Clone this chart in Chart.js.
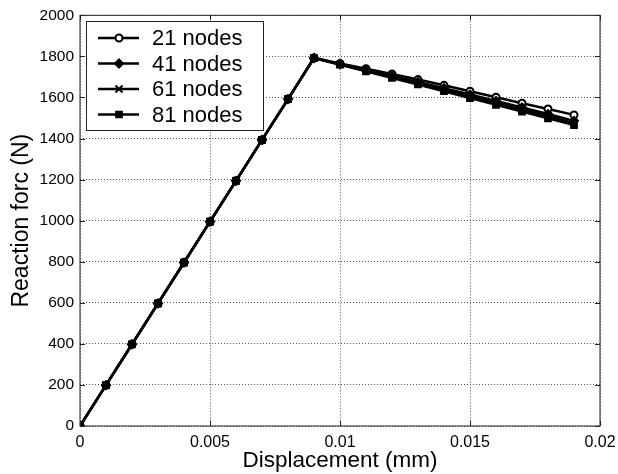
<!doctype html>
<html lang="en">
  <head>
    <meta charset="UTF-8" />
    <title>Reaction force vs displacement</title>
    <script src="https://cdn.jsdelivr.net/npm/chart.js"></script>
    <style>
      body {
        margin: 0;
        background: #fff;
      }
      .wrap {
        width: 618px;
        height: 474px;
      }
    </style>
  </head>
  <body>
    <div class="wrap"><canvas id="chart" width="618" height="474"></canvas></div>

    <script>
      const displacement = [
        0, 0.001, 0.002, 0.003, 0.004, 0.005, 0.006, 0.007, 0.008, 0.009,
        0.01, 0.011, 0.012, 0.013, 0.014, 0.015, 0.016, 0.017, 0.018, 0.019,
      ];
      const rising = [0, 199, 398, 597, 796, 995, 1194, 1393, 1592, 1792];
      const nodes21 = [1765, 1740, 1714, 1687, 1659, 1630, 1601, 1572, 1544, 1515];
      const nodes41 = [1763, 1734, 1705, 1675, 1645, 1614, 1583, 1551, 1519, 1486];
      const nodes61 = [1761, 1730, 1699, 1668, 1637, 1605, 1573, 1540, 1508, 1475];
      const nodes81 = [1759, 1727, 1695, 1663, 1630, 1597, 1564, 1531, 1498, 1465];
      const xTicks = [0, 0.005, 0.01, 0.015, 0.02];
      const yTicks = [0, 200, 400, 600, 800, 1000, 1200, 1400, 1600, 1800, 2000];

      const FONT = "'Liberation Sans', Arial, sans-serif";

      function points(tail) {
        return rising.concat(tail).map((y, i) => ({ x: displacement[i], y }));
      }

      const series = [
        { label: '21 nodes', values: nodes21, style: 'circle', radius: 3.5, fill: '#fff' },
        { label: '41 nodes', values: nodes41, style: 'rectRot', radius: 4, fill: '#000' },
        { label: '61 nodes', values: nodes61, style: 'crossRot', radius: 5, fill: '#000' },
        { label: '81 nodes', values: nodes81, style: 'rect', radius: 4, fill: '#000' },
      ];

      // MATLAB style box with inward ticks and legend
      const boxPlugin = {
        id: 'box',
        afterDraw(chart) {
          const { ctx, chartArea: a, scales } = chart;
          ctx.save();
          ctx.strokeStyle = '#222';
          ctx.lineWidth = 1;
          ctx.strokeRect(a.left, a.top, a.right - a.left, a.bottom - a.top);
          const t = 5;
          ctx.beginPath();
          xTicks.forEach((v) => {
            const px = Math.round(scales.x.getPixelForValue(v)) + 0.5;
            ctx.moveTo(px, a.bottom);
            ctx.lineTo(px, a.bottom - t);
            ctx.moveTo(px, a.top);
            ctx.lineTo(px, a.top + t);
          });
          yTicks.forEach((v) => {
            const py = Math.round(scales.y.getPixelForValue(v)) + 0.5;
            ctx.moveTo(a.left, py);
            ctx.lineTo(a.left + t, py);
            ctx.moveTo(a.right, py);
            ctx.lineTo(a.right - t, py);
          });
          ctx.stroke();

          // legend
          const lx = 86, ly = 21, lw = 177, lh = 109;
          ctx.fillStyle = '#fff';
          ctx.fillRect(lx, ly, lw, lh);
          ctx.strokeStyle = '#222';
          ctx.strokeRect(lx + 0.5, ly + 0.5, lw, lh);
          ctx.font = '22px ' + FONT;
          ctx.textBaseline = 'middle';
          series.forEach((s, i) => {
            const y = 38 + i * 25.5;
            ctx.strokeStyle = '#000';
            ctx.lineWidth = 2.5;
            ctx.beginPath();
            ctx.moveTo(98, y);
            ctx.lineTo(139, y);
            ctx.stroke();
            ctx.fillStyle = s.fill;
            ctx.lineWidth = 2;
            Chart.helpers.drawPoint(ctx, { pointStyle: s.style, radius: s.radius, borderWidth: 2 }, 119, y);
            ctx.fillStyle = '#000';
            ctx.fillText(s.label, 152, y + 1);
          });
          ctx.restore();
        },
      };

      new Chart(document.getElementById('chart'), {
        type: 'line',
        data: {
          datasets: series.map((s, i) => ({
            label: s.label,
            data: points(s.values),
            order: series.length - 1 - i,
            borderColor: '#000',
            borderWidth: 2.5,
            pointStyle: s.style,
            pointRadius: s.radius,
            pointBackgroundColor: s.fill,
            pointBorderColor: '#000',
            pointBorderWidth: 2,
            tension: 0,
          })),
        },
        options: {
          responsive: false,
          animation: false,
          layout: { padding: { top: 15, right: 18, left: 0, bottom: 0 } },
          plugins: { legend: { display: false }, tooltip: { enabled: false } },
          scales: {
            x: {
              type: 'linear',
              min: 0,
              max: 0.02,
              afterBuildTicks: (s) => {
                s.ticks = xTicks.map((v) => ({ value: v }));
              },
              afterFit: (s) => {
                s.height = 48;
                s.paddingLeft = 0;
                s.paddingRight = 0;
              },
              ticks: {
                color: '#000',
                font: { family: FONT, size: 16 },
                padding: 7,
                maxRotation: 0,
                callback: (v) => String(parseFloat(v.toFixed(3))),
              },
              grid: {
                color: '#555',
                drawTicks: false,
              },
              border: { display: false, dash: [1, 2] },
              title: {
                display: true,
                text: 'Displacement (mm)',
                color: '#000',
                font: { family: FONT, size: 22.5 },
                padding: { top: 0, bottom: 0 },
              },
            },
            y: {
              min: 0,
              max: 2000,
              afterBuildTicks: (s) => {
                s.ticks = yTicks.map((v) => ({ value: v }));
              },
              afterFit: (s) => {
                s.width = 80;
              },
              ticks: {
                color: '#000',
                font: { family: FONT, size: 15.5 },
                padding: 6,
                callback: (v) => String(v),
              },
              grid: {
                color: '#555',
                drawTicks: false,
              },
              border: { display: false, dash: [1, 2] },
              title: {
                display: true,
                text: 'Reaction forc (N)',
                color: '#000',
                font: { family: FONT, size: 23 },
                padding: { top: 8, bottom: 0 },
              },
            },
          },
        },
        plugins: [boxPlugin],
      });
    </script>
  </body>
</html>
